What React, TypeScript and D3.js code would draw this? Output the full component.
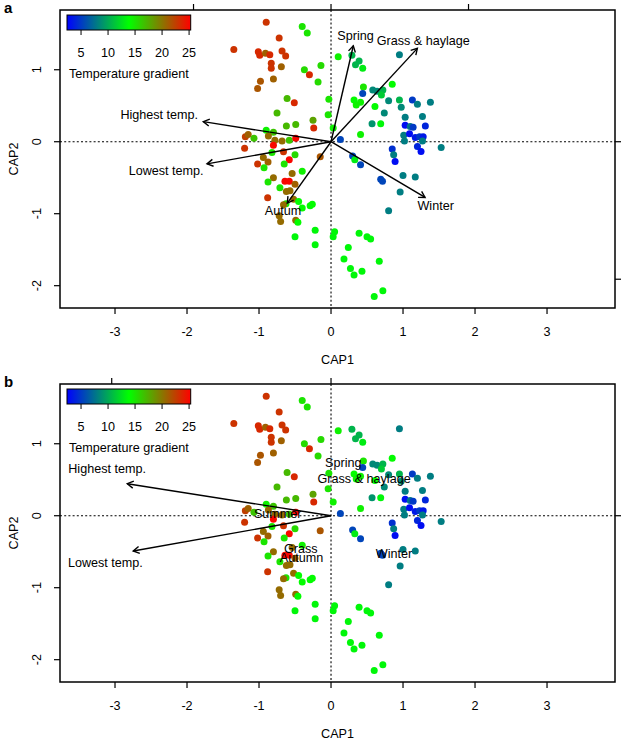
import React from "react";
import * as d3 from "d3";

// ---- site scores (CAP1, CAP2) and temperature ----
const siteCAP1 = [
  -0.90, -0.72, -0.40, -0.33, -1.35, -1.01, -0.99, -0.91, -0.85, -0.68,
  -0.63, -0.83, -0.83, -0.69, -0.98, -1.02, -0.80, -0.37, -0.30, -0.14,
  -0.18, 0.10, -0.61, -0.51, -0.03, -0.75, -0.04, -0.62, -0.49, -0.25,
  -0.24, 0.03, -0.90, -0.80, -1.19, -1.15, -1.07, -0.87, -0.78, -0.68,
  -0.58, -0.49, -0.80, -1.20, -0.66, -0.82, -0.50, -0.58, -0.65, -0.40,
  -1.02, -0.875, -0.94, -0.93, -0.80, -0.54, -0.64, -0.58, -0.50, -0.875,
  -0.71, -0.62, -0.57, -0.88, -0.52, -0.625, -0.66, -0.45, -0.40, -0.29,
  -0.26, -0.72, -0.70, -0.49, -0.46, -0.15, -0.22, -0.50, -0.22, 0.05,
  0.03, 0.39, 0.50, 0.55, 0.24, 0.18, 0.67, 0.27, 0.32, 0.43,
  0.72, 0.60, 0.29, 0.34, 0.39, 0.44, 0.95, 0.45, 0.44, 0.58,
  0.64, 0.72, 0.70, 0.85, 0.32, 0.35, 0.41, 0.61, 0.80, 0.95,
  0.975, 1.13, 1.20, 1.38, 0.74, 1.03, 1.27, 0.57, 0.69, 0.41,
  1.03, 1.10, 1.14, 1.31, 1.01, 1.09, 1.17, 1.23, 1.28, 1.02,
  1.27, 1.53, 1.20, 1.25, 0.13, 0.85, 0.87, 0.89, 0.30, 0.33,
  0.41, 0.69, 0.715, 1.00, 1.17, 0.96, 0.80,
];
const siteCAP2 = [
  1.66, 1.44, 1.60, 1.51, 1.28, 1.25, 1.20, 1.23, 1.21, 1.26,
  1.19, 1.09, 1.02, 1.04, 0.84, 0.74, 0.87, 1.00, 0.93, 1.06,
  0.83, 1.18, 0.60, 0.54, 0.59, 0.40, 0.375, 0.22, 0.24, 0.30,
  0.19, 0.19, 0.16, 0.13, 0.07, 0.10, 0.05, 0.08, 0.02, 0.01,
  0.02, 0.05, -0.05, -0.09, -0.14, -0.15, -0.18, -0.25, -0.31, -0.41,
  -0.31, -0.28, -0.22, -0.36, -0.50, -0.44, -0.55, -0.55, -0.59, -0.56,
  -0.64, -0.69, -0.68, -0.78, -0.80, -0.86, -0.875, -0.83, -0.92, -0.89,
  -0.87, -1.03, -1.11, -1.09, -1.12, -0.21, -1.23, -1.32, -1.43, -1.25,
  -1.32, -1.27, -1.32, -1.35, -1.47, -1.63, -1.66, -1.76, -1.85, -1.80,
  -2.07, -2.15, 1.20, 1.07, 1.12, 1.02, 1.21, 0.76, 0.67, 0.72,
  0.70, 0.72, 0.65, 0.80, 0.58, 0.51, 0.55, 0.49, 0.57, 0.58,
  0.48, 0.58, 0.52, 0.55, 0.40, 0.34, 0.35, 0.25, 0.25, 0.10,
  0.23, 0.21, 0.20, 0.22, 0.09, 0.11, 0.06, 0.07, 0.07, 0.01,
  0.01, -0.08, -0.065, -0.135, 0.03, -0.10, -0.18, -0.275, -0.20, -0.25,
  -0.32, -0.52, -0.55, -0.47, -0.49, -0.70, -0.96,
];
const siteTemp = [
  23, 23, 15, 15, 23, 23.5, 23.5, 21, 23.5, 23,
  23, 23, 23, 21, 21.5, 21.5, 21, 15.5, 23.5, 15.5,
  15.5, 14.5, 17, 23.5, 15, 17, 15, 17, 17, 18,
  23.5, 14.5, 14.5, 16.5, 22.5, 21, 16.5, 20.5, 20.5, 20.5,
  16.5, 25, 25, 23, 23, 15, 15.5, 25, 15, 14.5,
  23, 21, 20.5, 15, 20.5, 20.5, 25, 25, 21, 15,
  15, 20.5, 20.5, 23, 20.5, 15, 20.5, 14, 14, 14,
  14, 20.5, 20.5, 20.5, 14, 21.5, 13.5, 13.5, 13.5, 13.5,
  13.5, 13.5, 13.5, 13.5, 13.5, 13.5, 13.5, 13.5, 13.5, 13.5,
  13.5, 13.5, 10.5, 10.5, 10.5, 13, 8, 15, 5.5, 8.5,
  8.5, 10.5, 11.5, 14, 14, 14.5, 14.5, 14, 8.5, 10.5,
  8.5, 5, 8, 8, 8.5, 8, 8, 9, 13.5, 14.5,
  3, 7.5, 5, 4, 8, 3, 3.5, 5, 3.5, 8,
  8, 8, 4, 3, 5.5, 4.5, 8, 3, 5.5, 13,
  5.5, 5.5, 5.5, 8, 8, 8, 8,
];

// ---- environmental vectors (arrow units) ----
const envNames = ["Highest temp.", "Lowest temp."];
const envX = [-0.929, -0.902];
const envY = [0.146, -0.161];

// panel a: season / feed vectors (arrow units)
const vecNamesA = ["Spring", "Grass & haylage", "Autum", "Winter"];
const vecXA = [0.162, 0.628, -0.318, 0.684];
const vecYA = [0.698, 0.679, -0.446, -0.405];

// panel a label anchors (arrow units), order: env then vectors
const labelNamesA = [...envNames, ...vecNamesA];
const labelXA = [-1.249, -1.199, 0.178, 0.671, -0.349, 0.761];
const labelYA = [0.194, -0.216, 0.771, 0.729, -0.502, -0.465];

// panel b: env labels (arrow units)
const labelXB = [-1.021, -1.029];
const labelYB = [0.212, -0.214];

// panel b: centroid labels (CAP units)
const centroidNames = ["Spring", "Grass & haylage", "Summer", "Grass", "Autumn", "Winter"];
const centroidX = [0.17, 0.46, -0.74, -0.42, -0.41, 0.875];
const centroidY = [0.736, 0.513, 0.03, -0.467, -0.583, -0.528];

const xTicks = [-3, -2, -1, 0, 1, 2, 3];
const yTicks = [-2, -1, 0, 1];
const legendTicks = [5, 10, 15, 20, 25];
const tempDomain = [2.4, 13.85, 25.3];

const FONT = "'Liberation Sans', Arial, Helvetica, sans-serif";
const FS = 12.6;
const W = 625;
const H = 741;
const LEFT = 60;
const RIGHT = 615;
const PH = 298;

const color = d3
  .scaleLinear<string>()
  .domain(tempDomain)
  .range(["#0000ff", "#00ff00", "#ff0000"])
  .interpolate(d3.interpolateRgb);

const xScale = d3.scaleLinear().domain([-3.764, 3.944]).range([LEFT, RIGHT]);

function Arrow({ x1, y1, x2, y2 }: { x1: number; y1: number; x2: number; y2: number }) {
  const ang = Math.atan2(y2 - y1, x2 - x1);
  const L = 7;
  const a = Math.PI / 6;
  const p1 = [x2 - L * Math.cos(ang - a), y2 - L * Math.sin(ang - a)];
  const p2 = [x2 - L * Math.cos(ang + a), y2 - L * Math.sin(ang + a)];
  return (
    <g stroke="#000" strokeWidth={1.4} fill="none">
      <line x1={x1} y1={y1} x2={x2} y2={y2} />
      <polyline points={`${p1[0]},${p1[1]} ${x2},${y2} ${p2[0]},${p2[1]}`} />
    </g>
  );
}

function Panel({
  top,
  letter,
  arrowPx,
  topTicks,
  rightTicks,
  mode,
}: {
  top: number;
  letter: string;
  arrowPx: number;
  topTicks: number[];
  rightTicks: number[];
  mode: "a" | "b";
}) {
  const yScale = d3.scaleLinear().domain([1.83, -2.31]).range([top, top + PH]);
  const x0 = xScale(0);
  const y0 = yScale(0);
  const ax = d3.scaleLinear().domain([0, 1]).range([x0, x0 + arrowPx]);
  const ay = d3.scaleLinear().domain([0, 1]).range([y0, y0 - arrowPx]);
  const bottom = top + PH;
  const legScale = d3.scaleLinear().domain([tempDomain[0], tempDomain[2]]).range([67, 190.7]);
  const gid = `grad-${letter}`;

  const arrowsX = mode === "a" ? [...envX, ...vecXA] : envX;
  const arrowsY = mode === "a" ? [...envY, ...vecYA] : envY;

  return (
    <g fontFamily={FONT}>
      <text x={4} y={top + 3} fontSize={15} fontWeight="bold">
        {letter}
      </text>
      <line x1={LEFT} x2={RIGHT} y1={y0} y2={y0} stroke="#000" strokeWidth={1.1} strokeDasharray="2,2.2" />
      <line x1={x0} x2={x0} y1={top} y2={bottom} stroke="#000" strokeWidth={1.1} strokeDasharray="2,2.2" />
      {siteCAP1.map((v, i) => (
        <circle key={i} cx={xScale(v)} cy={yScale(siteCAP2[i])} r={3.5} fill={color(siteTemp[i])} />
      ))}
      {arrowsX.map((v, i) => (
        <Arrow key={i} x1={x0} y1={y0} x2={ax(v)} y2={ay(arrowsY[i])} />
      ))}
      {mode === "a"
        ? labelNamesA.map((n, i) => (
            <text key={n} x={ax(labelXA[i])} y={ay(labelYA[i])} fontSize={FS} textAnchor="middle" dominantBaseline="central">
              {n}
            </text>
          ))
        : envNames.map((n, i) => (
            <text key={n} x={ax(labelXB[i])} y={ay(labelYB[i])} fontSize={FS} textAnchor="middle" dominantBaseline="central">
              {n}
            </text>
          ))}
      {mode === "b" &&
        centroidNames.map((n, i) => (
          <text key={n} x={xScale(centroidX[i])} y={yScale(centroidY[i])} fontSize={FS} textAnchor="middle" dominantBaseline="central">
            {n}
          </text>
        ))}
      <defs>
        <linearGradient id={gid} x1="0" x2="1" y1="0" y2="0">
          <stop offset="0%" stopColor="#0000ff" />
          <stop offset="50%" stopColor="#00ff00" />
          <stop offset="100%" stopColor="#ff0000" />
        </linearGradient>
      </defs>
      <rect x={legScale(tempDomain[0])} y={top + 5} width={legScale(tempDomain[2]) - legScale(tempDomain[0])} height={15} fill={`url(#${gid})`} stroke="#000" strokeWidth={1} />
      {legendTicks.map((t) => (
        <g key={t}>
          <line x1={legScale(t)} x2={legScale(t)} y1={top + 20} y2={top + 25} stroke="#000" strokeWidth={1} />
          <text x={legScale(t)} y={top + 43} fontSize={FS} textAnchor="middle" dominantBaseline="central">
            {t}
          </text>
        </g>
      ))}
      <text x={69} y={top + 64} fontSize={FS} dominantBaseline="central">
        Temperature gradient
      </text>
      <rect x={LEFT} y={top} width={RIGHT - LEFT} height={PH} fill="none" stroke="#000" strokeWidth={1.5} />
      {xTicks.map((t) => (
        <g key={t}>
          <line x1={xScale(t)} x2={xScale(t)} y1={bottom} y2={bottom + 6} stroke="#000" strokeWidth={1.2} />
          <text x={xScale(t)} y={bottom + 23.5} fontSize={FS} textAnchor="middle" dominantBaseline="central">
            {t}
          </text>
        </g>
      ))}
      {yTicks.map((t) => (
        <g key={t}>
          <line x1={LEFT} x2={LEFT - 6} y1={yScale(t)} y2={yScale(t)} stroke="#000" strokeWidth={1.2} />
          <text
            transform={`translate(${LEFT - 23},${yScale(t)}) rotate(-90)`}
            fontSize={FS}
            textAnchor="middle"
            dominantBaseline="central"
          >
            {t}
          </text>
        </g>
      ))}
      {topTicks.map((t) => (
        <line key={`t${t}`} x1={ax(t)} x2={ax(t)} y1={top} y2={top - 6} stroke="#000" strokeWidth={1.2} />
      ))}
      {rightTicks.map((t) => (
        <line key={`r${t}`} x1={RIGHT} x2={RIGHT + 6} y1={ay(t)} y2={ay(t)} stroke="#000" strokeWidth={1.2} />
      ))}
      <text x={(LEFT + RIGHT) / 2} y={bottom + 52} fontSize={FS} textAnchor="middle" dominantBaseline="central">
        CAP1
      </text>
      <text
        transform={`translate(14,${top + PH / 2}) rotate(-90)`}
        fontSize={FS}
        textAnchor="middle"
        dominantBaseline="central"
      >
        CAP2
      </text>
    </g>
  );
}

export default function App() {
  return (
    <svg width={W} height={H} style={{ position: "absolute", left: 0, top: 0, background: "#fff" }}>
      <rect width={W} height={H} fill="#fff" />
      <Panel top={10} letter="a" arrowPx={137.5} topTicks={[-1, 0, 1]} rightTicks={[0, -1]} mode="a" />
      <Panel top={384} letter="b" arrowPx={219.3} topTicks={[-1, 0]} rightTicks={[0]} mode="b" />
    </svg>
  );
}
